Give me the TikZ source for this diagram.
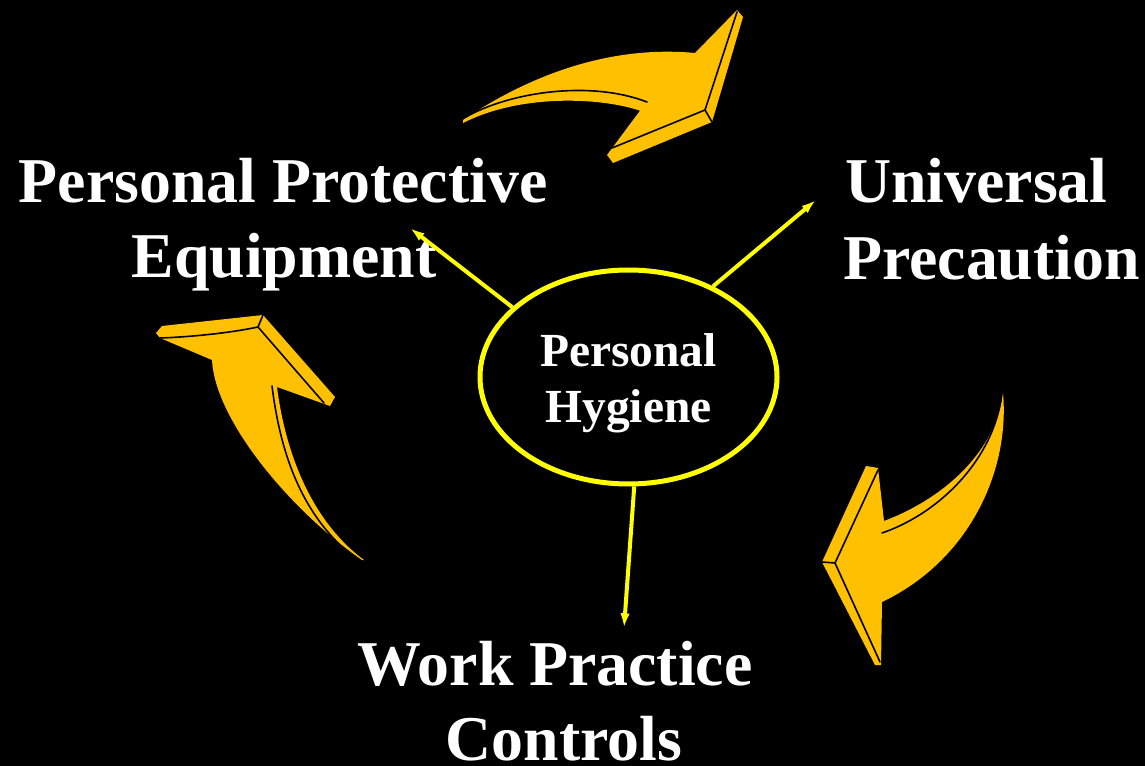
\documentclass[tikz,border=0pt]{standalone}
\usepackage{fontspec}
\setmainfont{Liberation Serif}
\usetikzlibrary{arrows.meta,shapes.geometric}
\definecolor{gold}{RGB}{255,192,0}
\definecolor{yel}{RGB}{255,255,0}
\begin{document}
\begin{tikzpicture}[x=0.75pt,y=-0.75pt,
  bigtext/.style={text=white,font=\fontsize{47.85}{56}\selectfont\bfseries,inner sep=0pt,anchor=base},
  link/.style={draw=yel,line width=3pt,-{Latex[length=11pt,width=7pt]}},
  face/.style={fill=gold},
  edgeline/.style={draw=black,line width=1.2pt,line join=round,line cap=round}]
\fill[black] (0,0) rectangle (1145,766);
\useasboundingbox (0,0) rectangle (1145,766);

% centre
\node[ellipse,draw=yel,line width=3.75pt,minimum width=222.75pt,minimum height=160.5pt,
      inner sep=0pt,text=white,
      font=\fontsize{35.6}{42}\selectfont\bfseries] (hyg) at (628.5,377)
      {\raisebox{0pt}[\dimexpr\height+9pt\relax][\depth]{\begin{tabular}{@{}c@{}}Personal\\Hygiene\end{tabular}}};

% labels
\node[bigtext] (ppe1) at (283,203) {Personal Protective};
\node[bigtext] (ppe2) at (284,278) {Equipment};
\node[bigtext,anchor=base west] (up1) at (845,203) {Universal};
\node[bigtext,anchor=base west] (up2) at (843,280) {Precaution};
\node[bigtext] (wpc1) at (555,685) {Work Practice};
\node[bigtext] (wpc2) at (564,760) {Controls};

% connector ends
\coordinate (e1) at (410,228);
\coordinate (e2) at (816,200);
\coordinate (e3) at (624,628);
\draw[link] (hyg.149.8) -- (e1);
\draw[link] (hyg.47.7) -- (e2);
\draw[link] (hyg.273.3) -- (e3);

% top curved arrow
\path[face] (463,120) .. controls (530,75) and (610,45) .. (695,53) -- (737,10) -- (743,17)
  -- (712,122) -- (613,163) -- (607,155) -- (645,104) -- (641,111)
  .. controls (600,97) and (520,94) .. (463,123) -- cycle;
\draw[edgeline] (466,117) .. controls (510,92) and (590,80) .. (647,102);
\draw[edgeline] (737,12) -- (705,110) -- (612,148);
\draw[edgeline] (705,110) -- (712,122);

% left curved arrow
\path[face] (362,560) .. controls (290,510) and (215,420) .. (212,360) -- (160,338) -- (156,333)
  -- (162,326) -- (263,315) -- (335,397) -- (330,406) -- (277,387)
  .. controls (285,450) and (310,520) .. (364,560) -- cycle;
\draw[edgeline] (160,338) .. controls (190,337) and (230,333) .. (258,327) -- (324,403);
\draw[edgeline] (258,327) -- (263,315);
\draw[edgeline] (272,386) .. controls (280,450) and (300,515) .. (355,558);

% right curved arrow
\path[face] (1003,393) .. controls (1010,470) and (970,560) .. (882,602) -- (881,665) -- (875,665)
  -- (822,562) -- (866,466) -- (878,468) -- (884,521)
  .. controls (940,500) and (995,455) .. (1003,393) -- cycle;
\draw[edgeline] (882,533) .. controls (935,515) and (990,465) .. (1001,400);
\draw[edgeline] (878,470) -- (835,563) -- (880,662);
\draw[edgeline] (835,563) -- (822,562);
\end{tikzpicture}
\end{document}
